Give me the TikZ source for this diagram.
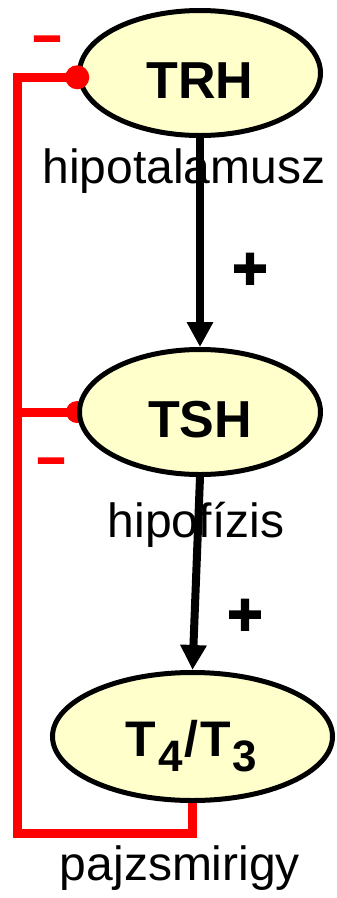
\documentclass[tikz,border=0pt]{standalone}
\usepackage{fontspec}
\setmainfont{Liberation Sans}
\newfontfamily\signfont[RawFeature={embolden=3}]{Liberation Sans Bold}
\usetikzlibrary{shapes.geometric,arrows.meta,backgrounds}
\definecolor{glandfill}{HTML}{FFFFCC}
\newcommand\lowidx[1]{\kern2pt\raisebox{-15pt}{\fontsize{44}{44}\selectfont #1}\kern2pt}
\begin{document}
\begin{tikzpicture}[x=1pt,y=-1pt,
  gland/.style={ellipse,draw=black,line width=5pt,fill=glandfill,inner sep=0pt,
    minimum width=241pt,minimum height=125pt,
    font=\fontsize{52}{52}\selectfont\bfseries,text height=50pt,text depth=0pt},
  organ/.style={anchor=base,inner sep=0pt,font=\fontsize{48}{50}\selectfont},
  stim/.style={draw=black,line width=8pt,-{Triangle[width=25pt,length=25pt]}},
  fb/.style={draw=red,line width=9pt,line join=miter},
  plus/.style={inner sep=0pt,font=\signfont\fontsize{60}{60}\selectfont},
  minus/.style={inner sep=0pt,text=red,font=\signfont\fontsize{50}{50}\selectfont}]
\useasboundingbox (0,0) rectangle (337,898);

% organ names
\node[organ] (hyplabel) at (184,183) {hipotalamusz};
\node[organ] (pitlabel) at (196,537) {hipofízis};
\node[organ] (thylabel) at (180,880) {pajzsmirigy};

% hormone ellipses
\node[gland] (trh) at (200,73) {TRH};
\node[gland] (tsh) at (200,412) {TSH};
\node[gland,minimum width=280pt,minimum height=128pt,text height=40pt,
  font=\fontsize{50}{50}\selectfont\bfseries] (t4) at (192.5,736.5)
  {T\lowidx{4}/\kern2pt T\lowidx{3}};

% stimulating axis
\draw[stim] (trh.south) -- (tsh.north);
\draw[stim] (tsh.south) -- (t4.north);
\node[plus] (plusup) at (250,271) {+};
\node[plus] (pluslow) at (245,617) {+};

% negative feedback loop
\coordinate (fbcorner) at (17,833);
\draw[fb] (t4.south) |- (fbcorner) |- (trh.182);
\fill[red] (trh.182) circle (12pt);
\begin{scope}[on background layer]
  \draw[fb] (fbcorner |- tsh.west) -- (tsh.west);
  \fill[red] (tsh.west) circle (11pt);
\end{scope}
\node[minus] (minusup) at (47,44) {–};
\node[minus] (minuslow) at (51,466) {–};
\end{tikzpicture}
\end{document}
